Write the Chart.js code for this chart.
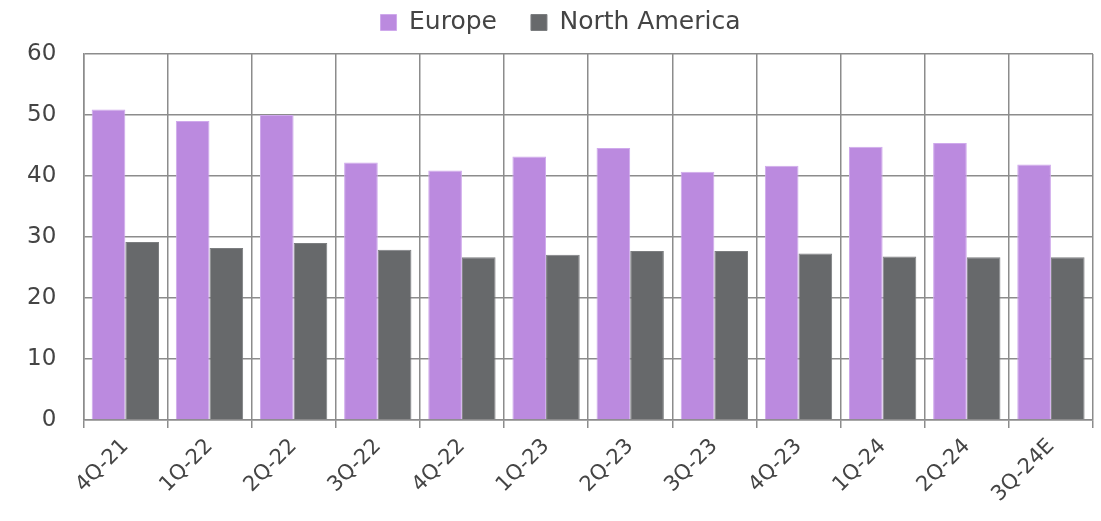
<!DOCTYPE html>
<html>
<head>
<meta charset="utf-8">
<script src="https://cdn.jsdelivr.net/npm/chart.js@4/dist/chart.umd.min.js"></script>
<style>
  html, body { margin: 0; padding: 0; background: #fff; }
  #wrap { width: 1101px; height: 521px; position: relative; }
</style>
</head>
<body>
<div id="wrap"><canvas id="c"></canvas></div>
<script>
const categories = ["4Q-21","1Q-22","2Q-22","3Q-22","4Q-22","1Q-23","2Q-23","3Q-23","4Q-23","1Q-24","2Q-24","3Q-24E"];
const europe = [50.9, 49.0, 50.0, 42.2, 40.9, 43.2, 44.6, 40.7, 41.7, 44.8, 45.4, 41.9];
const northAmerica = [29.2, 28.2, 29.0, 27.9, 26.7, 27.1, 27.7, 27.7, 27.3, 26.8, 26.7, 26.7];
const yTicks = [0, 10, 20, 30, 40, 50, 60];

const FONT = "'DejaVu Sans', sans-serif";
const GRID = '#8c8c8c';
const TEXT = '#444444';
const LEGEND_HEIGHT = 78;
const LEGEND_SHIFT = 14;

const legendTweakPlugin = {
  id: 'legendTweak',
  beforeLayout(chart) {
    const lg = chart.legend;
    if (lg && !lg._patched) {
      const f = lg.fit;
      lg.fit = function () { f.call(this); this.height = LEGEND_HEIGHT; };
      lg._patched = true;
    }
  },
  afterLayout(chart) {
    const lg = chart.legend;
    if (lg) { lg.left += LEGEND_SHIFT; lg.right += LEGEND_SHIFT; }
  }
};

new Chart(document.getElementById('c'), {
  type: 'bar',
  data: {
    labels: categories,
    datasets: [
      { label: 'Europe', data: europe, backgroundColor: '#bb8adf', borderColor: '#cfa9ec', borderWidth: 1,
        categoryPercentage: 0.8, barPercentage: 1.0 },
      { label: 'North America', data: northAmerica, backgroundColor: '#67696b', borderColor: '#7c7e80', borderWidth: 1,
        categoryPercentage: 0.8, barPercentage: 1.0 }
    ]
  },
  plugins: [legendTweakPlugin],
  options: {
    responsive: true,
    maintainAspectRatio: false,
    animation: false,
    layout: { padding: { left: 0, right: 8, top: -24, bottom: 8 } },
    plugins: {
      legend: {
        position: 'top',
        labels: {
          boxWidth: 16, boxHeight: 16, padding: 34,
          color: TEXT,
          font: { family: FONT, size: 25 }
        }
      },
      tooltip: { enabled: false }
    },
    scales: {
      x: {
        grid: { color: GRID, lineWidth: 1.5, offset: true, drawTicks: true, tickLength: 8 },
        border: { color: GRID, width: 1.5 },
        ticks: {
          color: TEXT, font: { family: FONT, size: 21 },
          maxRotation: 45, minRotation: 45, padding: 6
        }
      },
      y: {
        min: 0, max: 60,
        afterBuildTicks: (axis) => { axis.ticks = yTicks.map(v => ({ value: v })); },
        grid: { color: GRID, lineWidth: 1.5, drawTicks: false },
        border: { color: GRID, width: 1.5 },
        ticks: {
          color: TEXT, font: { family: FONT, size: 23 },
          padding: 27
        }
      }
    }
  }
});
</script>
</body>
</html>
